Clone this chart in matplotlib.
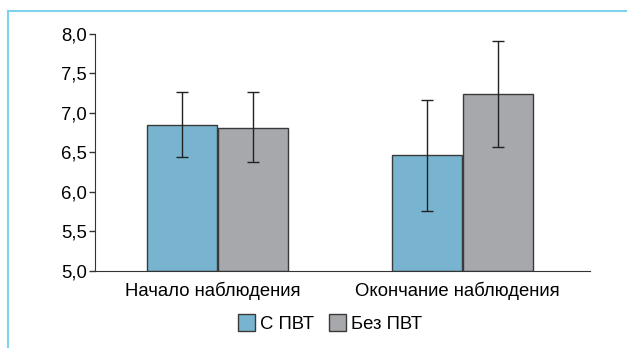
import numpy as np
import matplotlib
matplotlib.use('Agg')
import matplotlib.pyplot as plt
import matplotlib.transforms as mtrans
from matplotlib.ticker import FuncFormatter
from matplotlib.lines import Line2D

plt.rcParams['font.family'] = ['Liberation Sans', 'DejaVu Sans']

groups = ['Начало наблюдения', 'Окончание наблюдения']
series = ['С ПВТ', 'Без ПВТ']
means = {'С ПВТ': [6.85, 6.47], 'Без ПВТ': [6.81, 7.24]}
err_hi = {'С ПВТ': [7.27, 7.16], 'Без ПВТ': [7.27, 7.91]}
err_lo = {'С ПВТ': [6.44, 5.76], 'Без ПВТ': [6.38, 6.57]}
colors = {'С ПВТ': '#78b4cf', 'Без ПВТ': '#a7a8ac'}

fig = plt.figure(figsize=(6.27, 3.48), dpi=100)
ax = fig.add_axes([0.1515, 0.2213, 0.7895, 0.681])

x = np.arange(len(groups))
w = 0.285
gap = 0.004
for i, s in enumerate(series):
    pos = x + (i - 0.5) * (w + gap)
    m = np.array(means[s])
    lo = m - np.array(err_lo[s])
    hi = np.array(err_hi[s]) - m
    ax.bar(pos, m - 5.0, w, bottom=5.0, color=colors[s], edgecolor='#3a3a3a',
           linewidth=1.0, label=s, zorder=2)
    ax.errorbar(pos, m, yerr=[lo, hi], fmt='none', ecolor='#222222',
                elinewidth=1.0, capsize=4, capthick=1.0, zorder=3)

ax.set_ylim(5.0, 8.0)
ax.set_xlim(-0.5, 1.52)
ax.set_yticks(np.arange(5.0, 8.01, 0.5))
ax.yaxis.set_major_formatter(FuncFormatter(lambda v, p: ('%.1f' % v).replace('.', ',')))
ax.set_xticks(x)
ax.set_xticklabels(groups, fontsize=13.3)
ax.tick_params(axis='x', length=0, pad=8)
ax.tick_params(axis='y', labelsize=13.3, length=4, width=1, color='#333333', pad=2)
# category labels sit slightly left of the bar pairs
shift = mtrans.ScaledTranslation(-5 / 100, 0, fig.dpi_scale_trans)
for lab in ax.get_xticklabels():
    lab.set_transform(lab.get_transform() + shift)
for sp in ['top', 'right']:
    ax.spines[sp].set_visible(False)
ax.spines['left'].set_color('#333333')
ax.spines['bottom'].set_color('#333333')

ax.legend(loc='center', bbox_to_anchor=(0.475, -0.22), ncol=2, frameon=False,
          fontsize=13.3, handlelength=0.9, handleheight=1.1, handletextpad=0.3,
          columnspacing=0.8, borderpad=0)

# light blue frame on the top and left
fig.add_artist(Line2D([8 / 627, 1.0], [1 - 10.5 / 348] * 2, color='#7fd3ef', lw=1.5))
fig.add_artist(Line2D([8 / 627] * 2, [0.0, 1 - 10.5 / 348], color='#7fd3ef', lw=1.5))

fig.savefig('out.png', dpi=100)
